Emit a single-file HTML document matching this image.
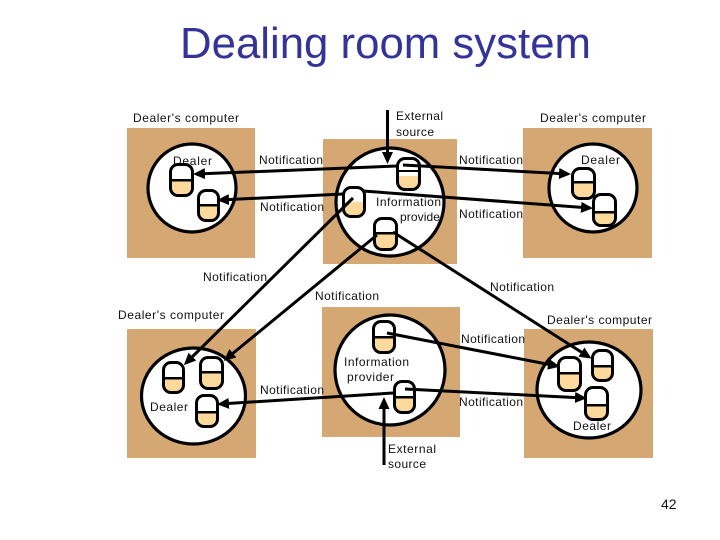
<!DOCTYPE html>
<html><head><meta charset="utf-8"><style>
html,body{margin:0;padding:0;background:#fff;width:720px;height:540px;overflow:hidden;position:relative}
svg{display:block;position:absolute;left:0;top:0}
text{font-family:"Liberation Sans",sans-serif;font-size:12px;fill:#111}
.p{position:absolute;box-sizing:border-box;border:3px solid #000;border-radius:9px;background:linear-gradient(#fff var(--d),#000 var(--d),#000 calc(var(--d) + 2.5px),#fdd99b calc(var(--d) + 2.5px))}
</style></head><body>
<svg width="720" height="540" viewBox="0 0 720 540" xmlns="http://www.w3.org/2000/svg">
<text x="180" y="58" style="font-size:44px;fill:#333399" textLength="411" lengthAdjust="spacingAndGlyphs">Dealing room system</text>
<g fill="#d5a873">
<rect x="127" y="128" width="128" height="130"/>
<rect x="323" y="139" width="134" height="125"/>
<rect x="523" y="128" width="129" height="130"/>
<rect x="127" y="329" width="129" height="129"/>
<rect x="322" y="307" width="138" height="130"/>
<rect x="524" y="329" width="129" height="129"/>
</g>
<g fill="#fff" stroke="#000" stroke-width="3.2">
<circle cx="192" cy="188" r="44"/>
<circle cx="390" cy="202" r="54"/>
<circle cx="593" cy="188" r="44"/>
<ellipse cx="193.500" cy="396" rx="52" ry="48"/>
<ellipse cx="390" cy="370" rx="55" ry="55"/>
<ellipse cx="589" cy="390" rx="52" ry="48"/>
</g>
<text x="173" y="165" textLength="39">Dealer</text>
</svg>
<div class="p" style="left:169px;top:163px;width:25px;height:34px;--d:13px"></div>
<div class="p" style="left:197px;top:189px;width:23px;height:33px;--d:12px"></div>
<div class="p" style="left:396px;top:157px;width:25px;height:34px;background:linear-gradient(#fff 10px,#000 10px,#000 12px,#fff 12px,#fff 16px,#fdd99b 16px)"></div>
<div class="p" style="left:342px;top:186px;width:24px;height:32px;background:linear-gradient(#fff 13px,#fdd99b 13px)"></div>
<div class="p" style="left:373px;top:217px;width:25px;height:34px;--d:12px"></div>
<div class="p" style="left:571px;top:167px;width:25px;height:33px;--d:11px"></div>
<div class="p" style="left:592px;top:193px;width:25px;height:34px;--d:15px"></div>
<div class="p" style="left:162px;top:361px;width:23px;height:33px;--d:13px"></div>
<div class="p" style="left:199px;top:356px;width:25px;height:34px;--d:12px"></div>
<div class="p" style="left:195px;top:394px;width:24px;height:34px;--d:14px"></div>
<div class="p" style="left:372px;top:320px;width:24px;height:34px;--d:13px"></div>
<div class="p" style="left:393px;top:380px;width:23px;height:34px;--d:13px"></div>
<div class="p" style="left:557px;top:356px;width:25px;height:36px;--d:13px"></div>
<div class="p" style="left:591px;top:349px;width:23px;height:33px;--d:13px"></div>
<div class="p" style="left:584px;top:386px;width:25px;height:35px;--d:15px"></div>
<svg width="720" height="540" viewBox="0 0 720 540" xmlns="http://www.w3.org/2000/svg">
<defs>
<marker id="a" markerUnits="userSpaceOnUse" markerWidth="14" markerHeight="12" refX="9" refY="5.500" orient="auto"><path d="M0 0L12 5.500L0 11Z" fill="#000"/></marker>
</defs>
<g stroke="#000" stroke-width="3" fill="none">
<path d="M387.500 110V161" marker-end="url(#a)"/>
<path d="M397 166L196 174" marker-end="url(#a)"/>
<path d="M343 194L220 200" marker-end="url(#a)"/>
<path d="M403 165L568 174" marker-end="url(#a)"/>
<path d="M363 191L590 208" marker-end="url(#a)"/>
<path d="M353 198L186 363" marker-end="url(#a)"/>
<path d="M377 235L226 359" marker-end="url(#a)"/>
<path d="M393 232L589 357" marker-end="url(#a)"/>
<path d="M387 333L557 366" marker-end="url(#a)"/>
<path d="M405 389L584 398" marker-end="url(#a)"/>
<path d="M393 393L220 404" marker-end="url(#a)"/>
<path d="M384 465V400" marker-end="url(#a)"/>
</g>
<text x="133" y="122" textLength="106">Dealer's computer</text>
<text x="396" y="120" textLength="47">External</text>
<text x="396" y="136" textLength="38">source</text>
<text x="540" y="122" textLength="106">Dealer's computer</text>
<text x="259" y="164" textLength="64">Notification</text>
<text x="459" y="164" textLength="64">Notification</text>
<text x="581" y="164" textLength="39">Dealer</text>
<text x="260" y="211" textLength="64">Notification</text>
<text x="376" y="206" textLength="65">Information</text>
<text x="400" y="221" textLength="44">provider</text>
<text x="459" y="218" textLength="64">Notification</text>
<text x="203" y="281" textLength="64">Notification</text>
<text x="490" y="291" textLength="64">Notification</text>
<text x="315" y="300" textLength="64">Notification</text>
<text x="118" y="319" textLength="106">Dealer's computer</text>
<text x="547" y="324" textLength="105">Dealer's computer</text>
<text x="461" y="343" textLength="64">Notification</text>
<text x="344" y="366" textLength="65">Information</text>
<text x="347" y="381" textLength="47">provider</text>
<text x="260" y="394" textLength="64">Notification</text>
<text x="459" y="406" textLength="64">Notification</text>
<text x="150" y="411" textLength="38">Dealer</text>
<text x="573" y="430" textLength="38">Dealer</text>
<text x="388" y="453" textLength="48">External</text>
<text x="388" y="468" textLength="38">source</text>
<text x="661" y="509" style="font-size:14px">42</text>
</svg>
</body></html>
